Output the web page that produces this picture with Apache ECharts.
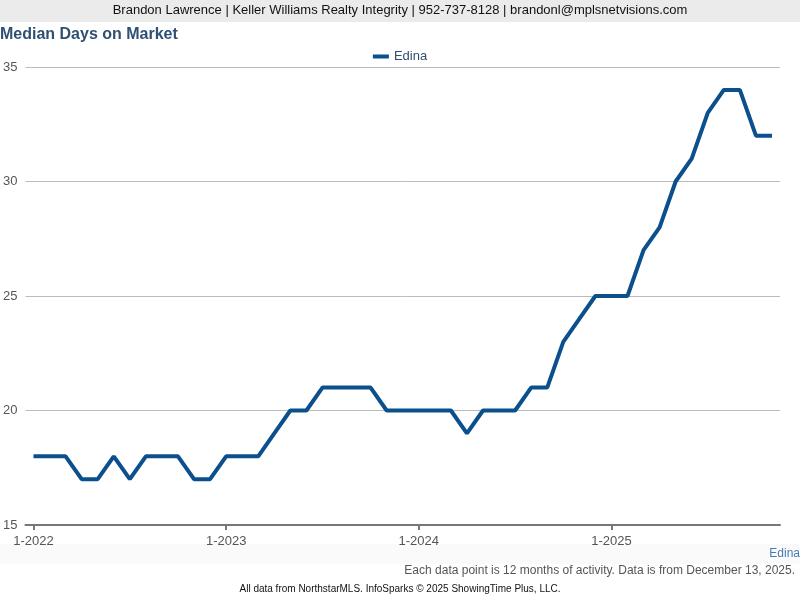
<!DOCTYPE html>
<html><head><meta charset="utf-8">
<script src="https://cdn.jsdelivr.net/npm/echarts@6/dist/echarts.min.js"></script>
<style>html,body{margin:0;padding:0;background:#fff}#c{width:800px;height:600px}</style>
</head><body><div id="c"></div>
<script>
const years = [2022, 2023, 2024, 2025];
const categories = [];
years.forEach(y => { for (let m = 1; m <= 12; m++) { if (y === 2025 && m > 11) break; categories.push(m + '-' + y); } });
const seriesName = 'Edina';
const values = [18,18,18,17,17,18,17,18,18,18,17,17,
                18,18,18,19,20,20,21,21,21,21,20,20,
                20,20,20,19,20,20,20,21,21,23,24,25,
                25,25,27,28,30,31,33,34,34,32,32];
const yTicks = [15, 20, 25, 30, 35];

const chart = echarts.init(document.getElementById('c'));
chart.setOption({
  animation: false,
  graphic: [
    {type:'rect', left:0, top:0, shape:{width:800, height:22}, style:{fill:'#ebebeb'}},
    {type:'text', left:'center', top:4, style:{text:'Brandon Lawrence | Keller Williams Realty Integrity | 952-737-8128 | brandonl@mplsnetvisions.com', font:'13px Arial, "Liberation Sans"', fill:'#111'}},
    {type:'text', left:0, top:27, style:{text:'Median Days on Market', font:'bold 16px Arial, "Liberation Sans"', fill:'#2f5073'}},
    {type:'rect', left:0, top:544, shape:{width:800, height:20}, style:{fill:'#fafafa'}},
    {type:'text', right:0, top:548, style:{text:'Edina', font:'12px Arial, "Liberation Sans"', fill:'#4a7ab0'}},
    {type:'text', right:5, top:565, style:{text:'Each data point is 12 months of activity. Data is from December 13, 2025.', font:'12px Arial, "Liberation Sans"', fill:'#555'}},
    {type:'text', left:'center', top:584, style:{text:'All data from NorthstarMLS. InfoSparks \u00a9 2025 ShowingTime Plus, LLC.', font:'10px Arial, "Liberation Sans"', fill:'#111'}}
  ],
  legend: {
    top: 45, left: 'center',
    data: [seriesName],
    icon: 'rect', itemWidth: 16, itemHeight: 4,
    textStyle: {color:'#2f5073', fontSize:13, fontFamily:'Arial, "Liberation Sans"'}
  },
  grid: {left: 25, right: 20, top: 67, bottom: 75},
  xAxis: {
    type: 'category',
    data: categories,
    boundaryGap: true,
    axisLine: {lineStyle: {color:'#777', width:2}},
    axisTick: {show: true, alignWithLabel: true, length: 5, lineStyle:{color:'#777', width:2}, interval: 11},
    axisLabel: {interval: 11, color:'#555', fontSize:13, fontFamily:'Arial, "Liberation Sans"', margin: 10},
    splitLine: {show:false}
  },
  yAxis: {
    type: 'value',
    min: yTicks[0], max: yTicks[yTicks.length-1], interval: 5,
    axisLine: {show:false},
    axisTick: {show:false},
    axisLabel: {color:'#555', fontSize:13, fontFamily:'Arial, "Liberation Sans"', margin: 8},
    splitLine: {lineStyle: {color:'#bbb', width:1}}
  },
  series: [{
    name: seriesName,
    type: 'line',
    data: values,
    symbol: 'none',
    lineStyle: {color:'#0b4f8c', width:4},
    itemStyle: {color:'#0b4f8c'}
  }]
});
</script></body></html>
